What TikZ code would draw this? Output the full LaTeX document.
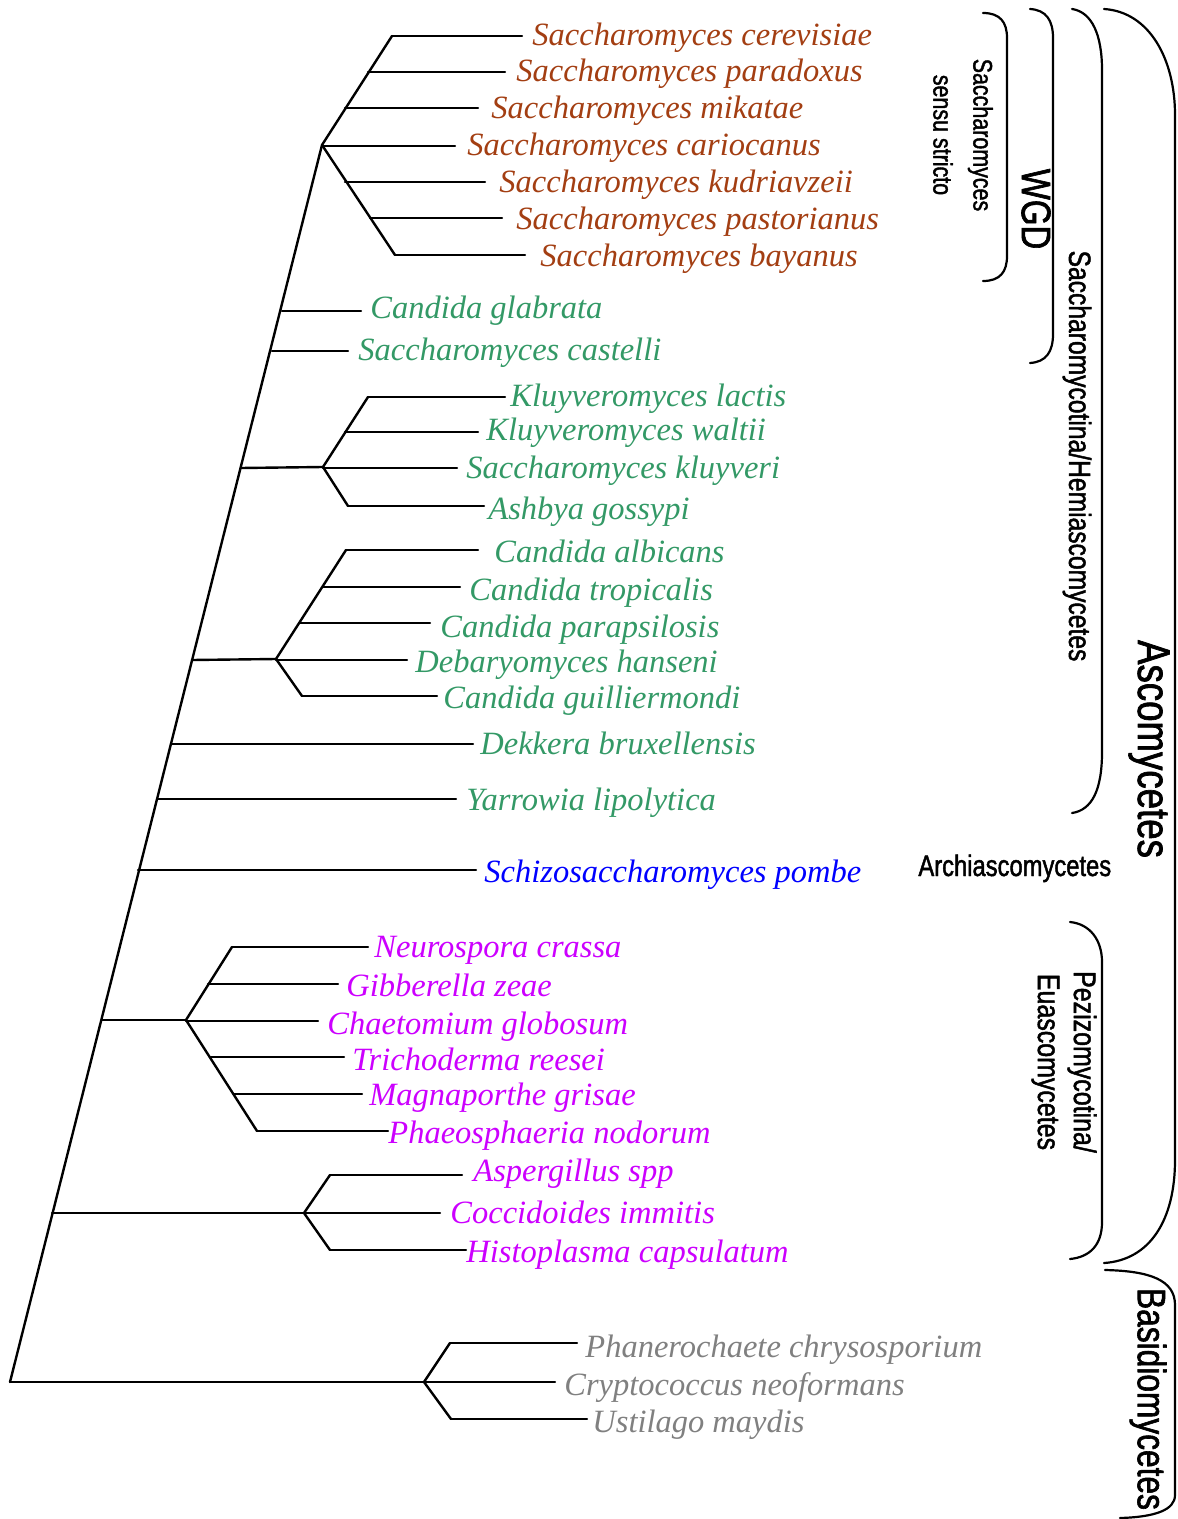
\documentclass[tikz,border=0pt]{standalone}
\usepackage{fontspec}
\setmainfont{Liberation Serif}
\newfontfamily\lblfont[FakeStretch=0.8,FakeBold=1.5]{Liberation Sans}
\definecolor{sbrown}{RGB}{163,62,18}
\definecolor{sgreen}{RGB}{51,153,102}
\definecolor{smag}{RGB}{204,0,255}
\definecolor{sgray}{RGB}{128,128,128}
\definecolor{sblue}{RGB}{0,0,255}
\newcommand\myleaf[8]{%
  \coordinate (#1-s) at (#2,#3);
  \coordinate (#1-e) at (#4,#3);
  \node[sp,text=#7] (#1) at (#5,#6+10) {#8};
  \draw[br] (#1-s) -- (#1-e);
}
\begin{document}
\begin{tikzpicture}[x=0.5pt,y=-0.5pt,line join=round,line cap=round,
  br/.style={line width=1.2pt,black},
  bracket/.style={line width=1.1pt,black},
  sp/.style={font=\fontsize{16.25}{19}\selectfont\itshape,inner sep=0pt,anchor=base west},
  grp/.style={font=\lblfont\fontsize{#1}{#1}\selectfont,inner sep=0pt,rotate=-90,align=center},
  grp/.default=13]
\useasboundingbox (0,0) rectangle (1177,1519);
% leaves
\myleaf{cer}{392}{36}{522}{532}{36}{sbrown}{Saccharomyces cerevisiae}
\myleaf{par}{368}{72}{505}{516}{72}{sbrown}{Saccharomyces paradoxus}
\myleaf{mik}{345}{108}{478}{491}{109}{sbrown}{Saccharomyces mikatae}
\myleaf{car}{322}{146}{455}{467}{146}{sbrown}{Saccharomyces cariocanus}
\myleaf{kud}{345}{182}{485}{499}{183}{sbrown}{Saccharomyces kudriavzeii}
\myleaf{pas}{370}{218}{502}{516}{220}{sbrown}{Saccharomyces pastorianus}
\myleaf{bay}{395}{255}{525}{540}{257}{sbrown}{Saccharomyces bayanus}
\myleaf{gla}{282}{311}{361}{370}{309}{sgreen}{Candida glabrata}
\myleaf{cas}{272}{351}{348}{358}{351}{sgreen}{Saccharomyces castelli}
\myleaf{lac}{368}{397}{505}{510}{397}{sgreen}{Kluyveromyces lactis}
\myleaf{wal}{345}{432}{478}{486}{430}{sgreen}{Kluyveromyces waltii}
\myleaf{klu}{323}{468}{457}{466}{468}{sgreen}{Saccharomyces kluyveri}
\myleaf{ash}{348}{506}{484}{488}{509}{sgreen}{Ashbya gossypi}
\myleaf{alb}{346}{550}{478}{494}{552}{sgreen}{Candida albicans}
\myleaf{tro}{323}{587}{460}{469}{590}{sgreen}{Candida tropicalis}
\myleaf{psi}{300}{623}{430}{440}{627}{sgreen}{Candida parapsilosis}
\myleaf{deb}{276}{660}{407}{415}{662}{sgreen}{Debaryomyces hanseni}
\myleaf{gui}{302}{696}{437}{443}{698}{sgreen}{Candida guilliermondi}
\myleaf{dek}{172}{744}{473}{480}{744}{sgreen}{Dekkera bruxellensis}
\myleaf{yar}{157}{799}{456}{466}{800}{sgreen}{Yarrowia lipolytica}
\myleaf{sch}{138}{870}{476}{484}{872}{sblue}{Schizosaccharomyces pombe}
\myleaf{neu}{232}{947}{368}{374}{947}{smag}{Neurospora crassa}
\myleaf{gib}{208}{984}{338}{346}{986}{smag}{Gibberella zeae}
\myleaf{cha}{186}{1021}{318}{327}{1024}{smag}{Chaetomium globosum}
\myleaf{tri}{211}{1057}{344}{352}{1060}{smag}{Trichoderma reesei}
\myleaf{mag}{234}{1094}{362}{369}{1095}{smag}{Magnaporthe grisae}
\myleaf{pha}{257}{1131}{388}{388}{1133}{smag}{Phaeosphaeria nodorum}
\myleaf{asp}{330}{1175}{462}{473}{1171}{smag}{Aspergillus spp}
\myleaf{coc}{304}{1213}{440}{450}{1213}{smag}{Coccidoides immitis}
\myleaf{his}{330}{1250}{466}{466}{1252}{smag}{Histoplasma capsulatum}
\myleaf{phn}{450}{1343}{577}{585}{1347}{sgray}{Phanerochaete chrysosporium}
\myleaf{cry}{424}{1382}{555}{564}{1385}{sgray}{Cryptococcus neoformans}
\myleaf{ust}{451}{1419}{587}{592}{1422}{sgray}{Ustilago maydis}
% internal nodes
\coordinate (root) at (10,1382);
\coordinate (nss) at (322,145);
\coordinate (nkl) at (323,467);
\coordinate (skl) at (241,468);
\coordinate (nca) at (276,659);
\coordinate (sca) at (192,660);
\coordinate (npe) at (186,1020);
\coordinate (spe) at (102,1020);
\coordinate (nas) at (304,1213);
\coordinate (sas) at (52,1213);
\coordinate (nba) at (424,1382);
% spine and stems
\draw[br] (root) -- (nss);
\draw[br] (skl) -- (nkl);
\draw[br] (sca) -- (nca);
\draw[br] (spe) -- (npe);
\draw[br] (sas) -- (nas);
\draw[br] (root) -- (nba);
% fans
\draw[br] (cer-s) -- (nss) -- (bay-s);
\draw[br] (lac-s) -- (nkl) -- (ash-s);
\draw[br] (alb-s) -- (nca) -- (gui-s);
\draw[br] (neu-s) -- (npe) -- (pha-s);
\draw[br] (asp-s) -- (nas) -- (his-s);
\draw[br] (phn-s) -- (nba) -- (ust-s);
% brackets
\draw[bracket] (983,13) .. controls (1000,13) and (1007,22) .. (1007,38) -- (1007,256) .. controls (1007,272) and (1000,281) .. (983,281);
\draw[bracket] (1030,9) .. controls (1046,10) and (1053,20) .. (1053,38) -- (1053,334) .. controls (1053,352) and (1046,362) .. (1030,363);
\draw[bracket] (1072,9) .. controls (1092,12) and (1102,35) .. (1102,70) -- (1102,752) .. controls (1102,790) and (1092,810) .. (1072,813);
\draw[bracket] (1104,9) .. controls (1150,12) and (1175,60) .. (1175,115) -- (1175,1160) .. controls (1175,1220) and (1150,1260) .. (1104,1263);
\draw[bracket] (1070,922) .. controls (1090,924) and (1102,940) .. (1102,962) -- (1102,1222) .. controls (1102,1245) and (1090,1257) .. (1070,1259);
\draw[bracket] (1105,1270) .. controls (1150,1271) and (1175,1280) .. (1175,1305) -- (1175,1495) .. controls (1175,1510) and (1155,1517) .. (1120,1518);
% group labels
\node[grp, font=\lblfont\fontsize{13.4}{20}\selectfont] (lss) at (963,135) {Saccharomyces\\sensu stricto};
\node[grp=20.6] (lwgd) at (1036,209) {WGD};
\node[grp=15.4] (lhemi) at (1077,456) {Saccharomycotina/Hemiascomycetes};
\node[grp=22.9] (lasco) at (1149,749) {Ascomycetes};
\node[font=\lblfont\fontsize{14.85}{14.85}\selectfont,inner sep=0pt,anchor=base west] (larch) at (918,876) {Archiascomycetes};
\node[grp, font=\lblfont\fontsize{15.6}{18}\selectfont] (lpez) at (1064,1062) {Pezizomycotina/\\Euascomycetes};
\node[grp=19.8] (lbas) at (1148,1399) {Basidiomycetes};
\end{tikzpicture}
\end{document}
